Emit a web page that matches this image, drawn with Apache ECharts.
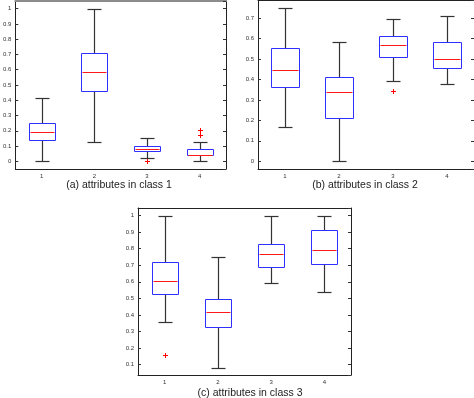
<!DOCTYPE html>
<html><head><meta charset="utf-8">
<script src="https://cdn.jsdelivr.net/npm/echarts@6/dist/echarts.min.js"></script>
<style>html,body{margin:0;padding:0;background:#fff}#c{width:474px;height:398px}</style>
</head><body><div id="c"></div>
<script>
// ---- data ----
const categories = ['1', '2', '3', '4'];
// five-number summaries per attribute: [lower whisker, Q1, median, Q3, upper whisker]
const class1Stats = [[0, 0.138, 0.193, 0.248, 0.414], [0.127, 0.458, 0.586, 0.711, 1.0], [0.02, 0.066, 0.083, 0.103, 0.151], [0, 0.041, 0.044, 0.081, 0.127]];
const class1Outliers = [[2, 0], [3, 0.173], [3, 0.206]];
const class2Stats = [[0.167, 0.362, 0.444, 0.553, 0.75], [0, 0.21, 0.337, 0.413, 0.582], [0.39, 0.507, 0.569, 0.61, 0.694], [0.376, 0.457, 0.499, 0.582, 0.709]];
const class2Outliers = [[2, 0.341]];
const class3Stats = [[0.357, 0.524, 0.608, 0.721, 1.0], [0.082, 0.329, 0.416, 0.496, 0.749], [0.594, 0.691, 0.769, 0.827, 1.0], [0.54, 0.705, 0.791, 0.914, 1.0]];
const class3Outliers = [[0, 0.161]];
const yMin = [-0.05, -0.0375, 0.0375];
const yMax = [1.05, 0.7875, 1.0458];
const captions = ['(a) attributes in class 1', '(b) attributes in class 2', '(c) attributes in class 3'];

// ---- layout & style ----
const FONT = 'Liberation Sans';
const grids = [
  {left: 12, top: 1, width: 214, height: 168},
  {left: 258, top: -1, width: 216, height: 170},
  {left: 138, top: 208, width: 213, height: 167}
];
const captionPos = [[119, 185], [365, 185], [250, 393]];
const statsList = [class1Stats, class2Stats, class3Stats];
const outlierList = [class1Outliers, class2Outliers, class3Outliers];

const px = v => Math.round(v) + 0.5;
const BOX = '#2f2fff', MED = '#ff1a1a', WHISK = '#333333', OUT = '#ff0000';

function boxRender(params, api) {
  const xi = api.value(0);
  const lo = api.coord([xi, api.value(1)]);
  const q1 = api.coord([xi, api.value(2)]);
  const md = api.coord([xi, api.value(3)]);
  const q3 = api.coord([xi, api.value(4)]);
  const hi = api.coord([xi, api.value(5)]);
  const band = api.size([1, 0])[0];
  const cx = px(lo[0]);
  const hw = Math.round(band * 0.25);
  const cw = Math.round(band * 0.125);
  const wStyle = {stroke: WHISK, lineWidth: 1.2, fill: null};
  const yLo = px(lo[1]), yQ1 = px(q1[1]), yMd = px(md[1]), yQ3 = px(q3[1]), yHi = px(hi[1]);
  return {
    type: 'group',
    children: [
      {type: 'line', shape: {x1: cx, y1: yHi, x2: cx, y2: yQ3}, style: wStyle},
      {type: 'line', shape: {x1: cx, y1: yQ1, x2: cx, y2: yLo}, style: wStyle},
      {type: 'line', shape: {x1: cx - cw, y1: yHi, x2: cx + cw, y2: yHi}, style: wStyle},
      {type: 'line', shape: {x1: cx - cw, y1: yLo, x2: cx + cw, y2: yLo}, style: wStyle},
      {type: 'rect', shape: {x: cx - hw, y: yQ3, width: 2 * hw, height: yQ1 - yQ3}, style: {fill: '#ffffff', stroke: BOX, lineWidth: 1}},
      {type: 'line', shape: {x1: cx - hw + 1, y1: yMd, x2: cx + hw - 1, y2: yMd}, style: {stroke: MED, lineWidth: 1}}
    ]
  };
}

function plusRender(params, api) {
  const p = api.coord([api.value(0), api.value(1)]);
  const x = px(p[0]), y = px(p[1]), s = 2.5;
  const st = {stroke: OUT, lineWidth: 1};
  return {
    type: 'group',
    children: [
      {type: 'line', shape: {x1: x - s, y1: y, x2: x + s, y2: y}, style: st},
      {type: 'line', shape: {x1: x, y1: y - s, x2: x, y2: y + s}, style: st}
    ]
  };
}

const xAxis = [], yAxis = [], series = [];
grids.forEach((g, i) => {
  const topColor = i === 0 ? '#8c8c8c' : '#222';
  const topWidth = i === 0 ? 2 : 1;
  xAxis.push({
    type: 'category', gridIndex: i, data: categories, position: 'bottom',
    axisLine: {onZero: false, lineStyle: {color: '#222', width: 1}},
    axisTick: {show: false},
    axisLabel: {fontSize: 6, color: '#333', margin: 4, fontFamily: FONT},
    splitLine: {show: false}
  });
  xAxis.push({
    type: 'category', gridIndex: i, data: categories, position: 'top',
    axisLine: {onZero: false, lineStyle: {color: topColor, width: topWidth}},
    axisTick: {show: false}, axisLabel: {show: false}, splitLine: {show: false}
  });
  const yBase = {
    type: 'value', gridIndex: i, min: yMin[i], max: yMax[i],
    splitNumber: 10, minInterval: 0.1, maxInterval: 0.1,
    splitLine: {show: false},
    axisLine: {show: true, onZero: false, lineStyle: {color: '#222', width: 1}},
    axisTick: {show: true, inside: true, length: 3, lineStyle: {color: '#333'}}
  };
  yAxis.push(Object.assign({}, yBase, {
    position: 'left',
    axisLabel: {fontSize: 6, color: '#333', margin: 4, fontFamily: FONT, showMinLabel: false, showMaxLabel: false}
  }));
  yAxis.push(Object.assign({}, yBase, {position: 'right', axisLabel: {show: false}}));

  series.push({
    type: 'custom', xAxisIndex: 2 * i, yAxisIndex: 2 * i,
    renderItem: boxRender, silent: true, clip: false,
    itemStyle: {color: BOX},
    encode: {x: 0, y: [1, 2, 3, 4, 5]},
    data: statsList[i].map((s, k) => [k].concat(s))
  });
  series.push({
    type: 'custom', xAxisIndex: 2 * i, yAxisIndex: 2 * i,
    renderItem: plusRender, silent: true, clip: false,
    itemStyle: {color: OUT},
    encode: {x: 0, y: 1},
    data: outlierList[i]
  });
});

const chart = echarts.init(document.getElementById('c'), null, {renderer: 'canvas'});
chart.setOption({
  animation: false,
  backgroundColor: '#fff',
  textStyle: {fontFamily: FONT},
  grid: grids.map(g => Object.assign({containLabel: false}, g)),
  xAxis, yAxis, series,
  graphic: captions.map((t, i) => ({
    type: 'text', x: captionPos[i][0], y: captionPos[i][1],
    style: {text: t, font: '10.5px "Liberation Sans"', fill: '#222', align: 'center', verticalAlign: 'middle'}
  }))
});
</script></body></html>
